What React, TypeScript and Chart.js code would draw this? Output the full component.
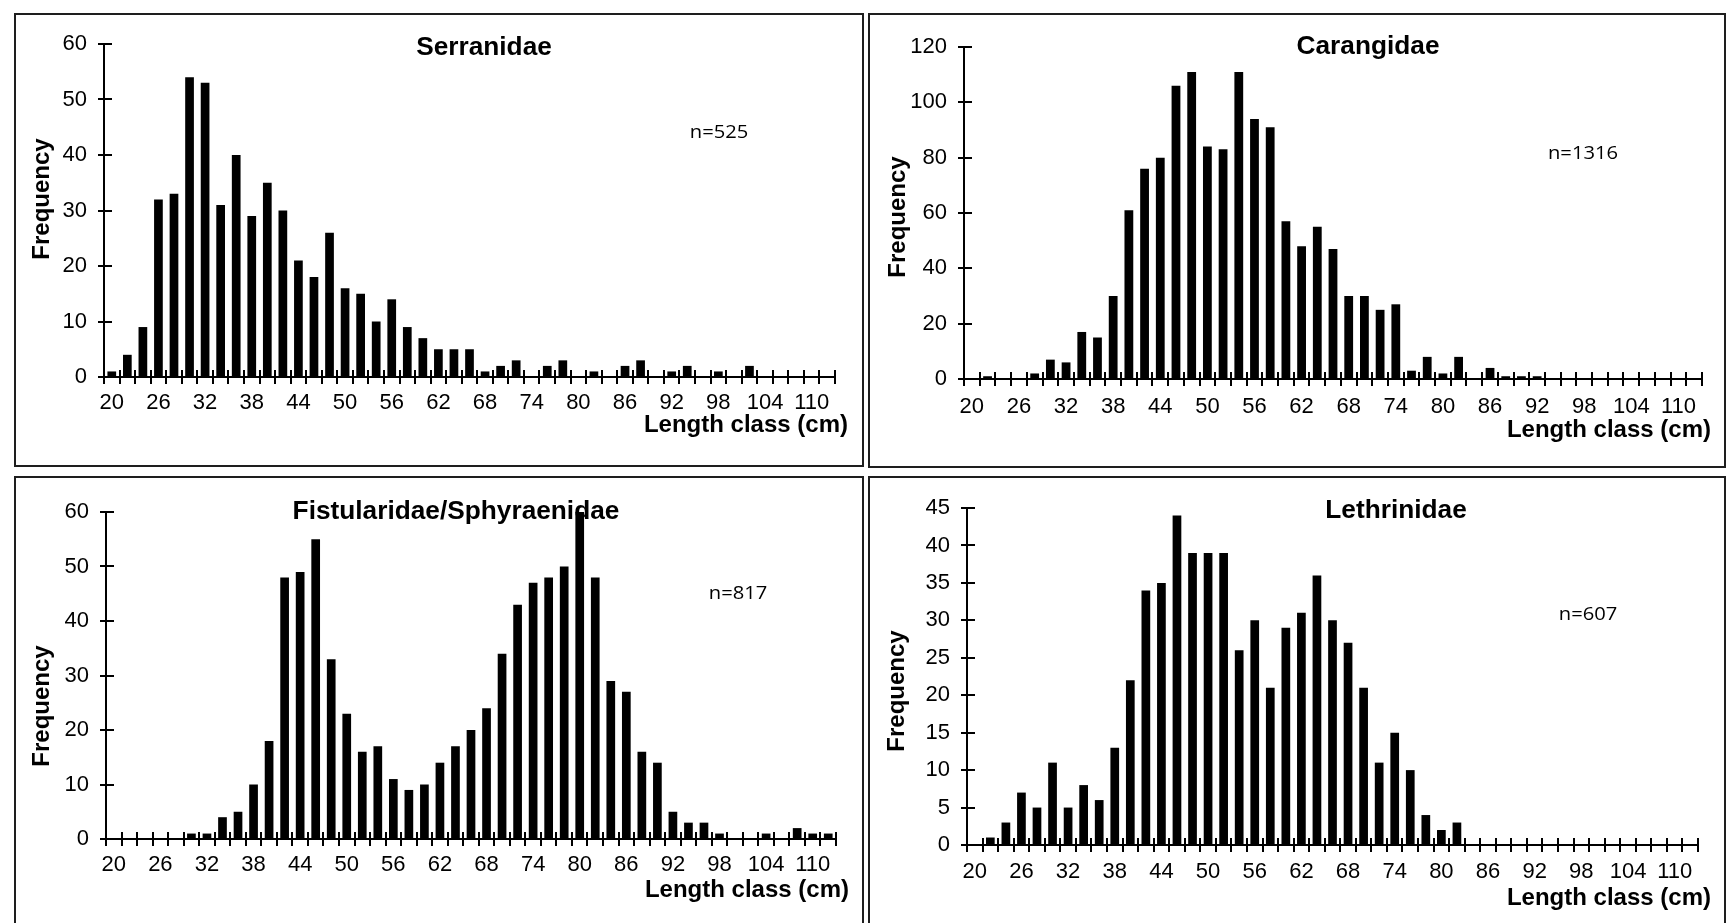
import React, { useEffect, useRef } from 'react';
import { Chart, registerables } from 'chart.js';

Chart.register(...registerables);

// ---------- data ----------
const LENGTH_CLASSES = [
  20, 22, 24, 26, 28, 30, 32, 34, 36, 38, 40, 42, 44, 46, 48, 50, 52, 54, 56, 58,
  60, 62, 64, 66, 68, 70, 72, 74, 76, 78, 80, 82, 84, 86, 88, 90, 92, 94, 96, 98,
  100, 102, 104, 106, 108, 110, 112,
];
const X_TICK_LABELS = ['20', '26', '32', '38', '44', '50', '56', '62', '68', '74', '80', '86', '92', '98', '104', '110'];

const SERRANIDAE = [
  1, 4, 9, 32, 33, 54, 53, 31, 40, 29,
  35, 30, 21, 18, 26, 16, 15, 10, 14, 9,
  7, 5, 5, 5, 1, 2, 3, 0, 2, 3,
  0, 1, 0, 2, 3, 0, 1, 2, 0, 1,
  0, 2, 0, 0, 0, 0, 0,
];
const CARANGIDAE = [
  0, 1, 0, 0, 2, 7, 6, 17, 15, 30,
  61, 76, 80, 106, 111, 84, 83, 111, 94, 91,
  57, 48, 55, 47, 30, 30, 25, 27, 3, 8,
  2, 8, 0, 4, 1, 1, 1, 0, 0, 0,
  0, 0, 0, 0, 0, 0, 0,
];
const FISTULARIDAE_SPHYRAENIDAE = [
  0, 0, 0, 0, 0, 1, 1, 4, 5, 10,
  18, 48, 49, 55, 33, 23, 16, 17, 11, 9,
  10, 14, 17, 20, 24, 34, 43, 47, 48, 50,
  60, 48, 29, 27, 16, 14, 5, 3, 3, 1,
  0, 0, 1, 0, 2, 1, 1,
];
const LETHRINIDAE = [
  0, 1, 3, 7, 5, 11, 5, 8, 6, 13,
  22, 34, 35, 44, 39, 39, 39, 26, 30, 21,
  29, 31, 36, 30, 27, 21, 11, 15, 10, 4,
  2, 3, 0, 0, 0, 0, 0, 0, 0, 0,
  0, 0, 0, 0, 0, 0, 0,
];

const PANEL_TITLES = ['Serranidae', 'Carangidae', 'Fistularidae/Sphyraenidae', 'Lethrinidae'];
const SAMPLE_SIZES = ['n=525', 'n=1316', 'n=817', 'n=607'];
const Y_MAX = [60, 120, 60, 45];
const Y_STEP = [10, 20, 10, 5];
const Y_TITLE = 'Frequency';
const X_TITLE = 'Length class (cm)';

const TICK_FONT = '"Liberation Sans Narrow", "Arial Narrow", "Liberation Sans", Arial, sans-serif';
const BOLD_FONT = '"Liberation Sans", Arial, sans-serif';

// ---------- layout (page pixels) ----------
type Box = { l: number; t: number; w: number; h: number };
type PanelLayout = {
  box: Box;
  canvas: Box;
  yWidth: number;
  padTop: number;
  padRight: number;
  xHeight: number;
  tickPad: number;
  titlePos: [number, number];
  nPos: [number, number];
  freqPos: [number, number];
  lenPos: [number, number];
};

const LAYOUTS: PanelLayout[] = [
  {
    box: { l: 14, t: 13, w: 850, h: 454 },
    canvas: { l: 16, t: 15, w: 846, h: 450 },
    yWidth: 88, padTop: 29, padRight: 27, xHeight: 88, tickPad: 6,
    titlePos: [484, 55], nPos: [719, 138], freqPos: [42, 199], lenPos: [848, 432],
  },
  {
    box: { l: 868, t: 13, w: 858, h: 455 },
    canvas: { l: 870, t: 15, w: 854, h: 451 },
    yWidth: 94, padTop: 32, padRight: 22, xHeight: 87, tickPad: 8,
    titlePos: [1368, 54], nPos: [1583, 159], freqPos: [898, 217], lenPos: [1711, 437],
  },
  {
    box: { l: 14, t: 476, w: 850, h: 460 },
    canvas: { l: 16, t: 478, w: 846, h: 445 },
    yWidth: 90, padTop: 34, padRight: 26, xHeight: 84, tickPad: 6,
    titlePos: [456, 519], nPos: [738, 599], freqPos: [42, 706], lenPos: [849, 897],
  },
  {
    box: { l: 868, t: 476, w: 858, h: 460 },
    canvas: { l: 870, t: 478, w: 854, h: 445 },
    yWidth: 97, padTop: 30, padRight: 26, xHeight: 78, tickPad: 7,
    titlePos: [1396, 518], nPos: [1588, 620], freqPos: [897, 691], lenPos: [1711, 905],
  },
];

const SERIES = [SERRANIDAE, CARANGIDAE, FISTULARIDAE_SPHYRAENIDAE, LETHRINIDAE];

// ---------- plugin: crossing tick marks + text annotations ----------
const annotatePlugin = {
  id: 'annotate',
  afterDraw(chart: any, _args: any, opts: any) {
    const ctx = chart.ctx as CanvasRenderingContext2D;
    const ca = chart.chartArea;
    const xs = chart.scales.x;
    const ys = chart.scales.y;
    ctx.save();
    ctx.strokeStyle = '#000';
    ctx.lineWidth = 2;
    ctx.beginPath();
    const n = xs.getLabels().length;
    for (let i = 1; i <= n; i++) {
      const px = Math.round(xs.getPixelForValue(i - 0.5));
      ctx.moveTo(px, ca.bottom);
      ctx.lineTo(px, ca.bottom - 7);
    }
    for (const t of ys.ticks) {
      const py = Math.round(ys.getPixelForValue(t.value));
      ctx.moveTo(ca.left, py);
      ctx.lineTo(ca.left + 8, py);
    }
    ctx.stroke();

    ctx.fillStyle = '#000';
    for (const item of opts.texts || []) {
      ctx.save();
      ctx.translate(item.x, item.y);
      if (item.rotate) ctx.rotate(item.rotate);
      ctx.scale(item.sx || 1, 1);
      ctx.font = item.font;
      ctx.textAlign = item.align;
      ctx.textBaseline = item.baseline;
      ctx.fillText(item.text, 0, 0);
      ctx.restore();
    }
    ctx.restore();
  },
};

function Panel({ index }: { index: number }) {
  const ref = useRef<HTMLCanvasElement | null>(null);
  const lay = LAYOUTS[index];

  useEffect(() => {
    if (!ref.current) return;
    const ox = lay.canvas.l;
    const oy = lay.canvas.t;
    const texts = [
      {
        text: PANEL_TITLES[index], x: lay.titlePos[0] - ox, y: lay.titlePos[1] - oy,
        font: `bold 25px ${BOLD_FONT}`, align: 'center', baseline: 'alphabetic', sx: 1.05,
      },
      {
        text: SAMPLE_SIZES[index], x: lay.nPos[0] - ox, y: lay.nPos[1] - oy,
        font: '18px "Open Sans", sans-serif', align: 'center', baseline: 'alphabetic', sx: 1.12,
      },
      {
        text: Y_TITLE, x: lay.freqPos[0] - ox, y: lay.freqPos[1] - oy, rotate: -Math.PI / 2,
        font: `bold 24px ${BOLD_FONT}`, align: 'center', baseline: 'middle',
      },
      {
        text: X_TITLE, x: lay.lenPos[0] - ox, y: lay.lenPos[1] - oy,
        font: `bold 24px ${BOLD_FONT}`, align: 'right', baseline: 'alphabetic',
      },
    ];

    const chart = new Chart(ref.current, {
      type: 'bar',
      data: {
        labels: LENGTH_CLASSES.map(String),
        datasets: [
          {
            data: SERIES[index],
            backgroundColor: '#000',
            borderWidth: 0,
            barPercentage: 0.56,
            categoryPercentage: 1.0,
          },
        ],
      },
      options: {
        responsive: false,
        maintainAspectRatio: false,
        animation: false,
        devicePixelRatio: 1,
        layout: { padding: { left: 0, top: lay.padTop, right: lay.padRight, bottom: 0 } },
        plugins: {
          legend: { display: false },
          tooltip: { enabled: false },
          title: { display: false },
          annotate: { texts },
        } as any,
        scales: {
          x: {
            type: 'category',
            offset: true,
            grid: {
              display: true,
              offset: true,
              drawOnChartArea: false,
              drawTicks: true,
              tickLength: 7,
              lineWidth: 2,
              color: '#000',
            },
            border: { display: true, color: '#000', width: 2 },
            ticks: {
              autoSkip: false,
              maxRotation: 0,
              minRotation: 0,
              padding: lay.tickPad,
              color: '#000',
              font: { family: TICK_FONT, size: 22 },
              callback: (_v: any, i: number) => {
                const lab = String(LENGTH_CLASSES[i]);
                return X_TICK_LABELS.includes(lab) ? lab : '';
              },
            },
            afterFit: (s: any) => {
              s.height = lay.xHeight;
            },
          },
          y: {
            min: 0,
            max: Y_MAX[index],
            grid: {
              display: true,
              drawOnChartArea: false,
              drawTicks: true,
              tickLength: 6,
              lineWidth: 2,
              color: '#000',
            },
            border: { display: true, color: '#000', width: 2 },
            ticks: {
              stepSize: Y_STEP[index],
              padding: 11,
              color: '#000',
              font: { family: TICK_FONT, size: 22 },
            },
            afterFit: (s: any) => {
              s.width = lay.yWidth;
            },
          },
        },
      },
      plugins: [annotatePlugin as any],
    });
    return () => chart.destroy();
  }, [index]);

  return (
    <>
      <div
        style={{
          position: 'absolute',
          left: lay.box.l,
          top: lay.box.t,
          width: lay.box.w,
          height: lay.box.h,
          border: '2px solid #1e1e1e',
          boxSizing: 'border-box',
        }}
      />
      <canvas
        ref={ref}
        width={lay.canvas.w}
        height={lay.canvas.h}
        style={{
          position: 'absolute',
          left: lay.canvas.l,
          top: lay.canvas.t,
          width: lay.canvas.w,
          height: lay.canvas.h,
        }}
      />
    </>
  );
}

export default function App() {
  return (
    <div
      style={{
        position: 'fixed',
        left: 0,
        top: 0,
        width: 1726,
        height: 923,
        overflow: 'hidden',
        background: '#fff',
      }}
    >
      {[0, 1, 2, 3].map((i) => (
        <Panel key={i} index={i} />
      ))}
    </div>
  );
}
